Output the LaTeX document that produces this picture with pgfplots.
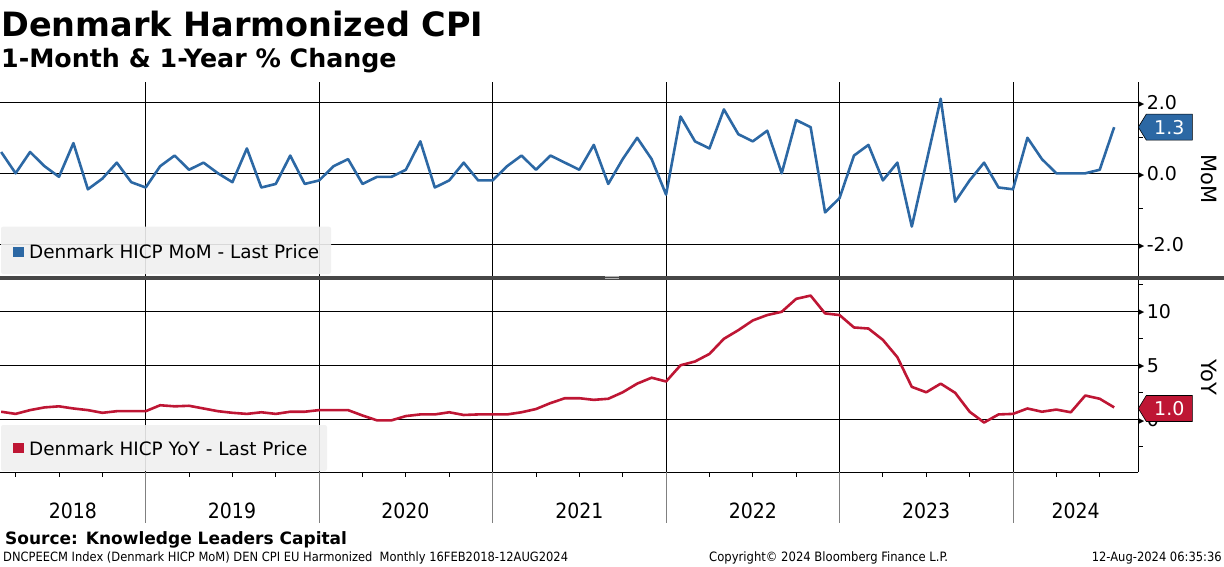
\documentclass[border=0pt]{standalone}
\usepackage{fontspec}
\setmainfont{DejaVu Sans}
\newfontfamily\cond{DejaVu Sans Condensed}
\usepackage{pgfplots}
\usepackage{pgfplotstable}
\pgfplotsset{compat=1.18}
\definecolor{mblue}{HTML}{2C68A4}
\definecolor{mred}{HTML}{BE1634}
\definecolor{legbg}{HTML}{F0F0F0}
\newcommand\tri{\raisebox{3.2pt}{\fontsize{7.5}{7.5}\selectfont ▶}\hspace{2.5pt}}

\pgfplotstableread{
m v
2 0.6
3 0.0
4 0.6
5 0.2
6 -0.1
7 0.85
8 -0.45
9 -0.15
10 0.3
11 -0.25
12 -0.4
13 0.2
14 0.5
15 0.1
16 0.3
17 0.0
18 -0.25
19 0.7
20 -0.4
21 -0.3
22 0.5
23 -0.3
24 -0.2
25 0.2
26 0.4
27 -0.3
28 -0.1
29 -0.1
30 0.1
31 0.9
32 -0.4
33 -0.2
34 0.3
35 -0.2
36 -0.2
37 0.2
38 0.5
39 0.1
40 0.5
41 0.3
42 0.1
43 0.8
44 -0.3
45 0.4
46 1.0
47 0.4
48 -0.6
49 1.6
50 0.9
51 0.7
52 1.8
53 1.1
54 0.9
55 1.2
56 0.0
57 1.5
58 1.3
59 -1.1
60 -0.7
61 0.5
62 0.8
63 -0.2
64 0.3
65 -1.5
66 0.3
67 2.1
68 -0.8
69 -0.2
70 0.3
71 -0.4
72 -0.45
73 1.0
74 0.4
75 0.0
76 0.0
77 0.0
78 0.1
79 1.3
}\mom

\pgfplotstableread{
m v
2 0.7
3 0.5
4 0.85
5 1.1
6 1.2
7 1.0
8 0.85
9 0.6
10 0.75
11 0.75
12 0.75
13 1.3
14 1.2
15 1.25
16 1.0
17 0.75
18 0.6
19 0.5
20 0.65
21 0.5
22 0.7
23 0.7
24 0.85
25 0.85
26 0.85
27 0.35
28 -0.1
29 -0.1
30 0.3
31 0.45
32 0.45
33 0.65
34 0.4
35 0.45
36 0.45
37 0.45
38 0.65
39 0.95
40 1.5
41 1.95
42 1.95
43 1.8
44 1.9
45 2.5
46 3.3
47 3.85
48 3.5
49 5.0
50 5.35
51 6.05
52 7.45
53 8.25
54 9.15
55 9.65
56 9.95
57 11.15
58 11.45
59 9.8
60 9.65
61 8.5
62 8.4
63 7.35
64 5.75
65 3.0
66 2.5
67 3.3
68 2.45
69 0.7
70 -0.3
71 0.45
72 0.5
73 1.0
74 0.7
75 0.9
76 0.65
77 2.2
78 1.9
79 1.1
}\yoy

\pgfplotsset{
  common/.style={
    scale only axis, width=1138.3pt,
    xmin=1.92, xmax=80.67,
    axis y line*=right, axis x line*=bottom,
    xtick={12,24,36,48,60,72}, xticklabels={},
    xmajorgrids, ymajorgrids,
    major grid style={black, line width=0.9pt},
    major tick length=0pt, minor tick length=4.5pt,
    tick align=outside,
    minor tick style={black, line width=0.9pt},
    axis line style={black, line width=0.9pt},
    yticklabel style={anchor=west, inner xsep=0pt, inner ysep=0pt, xshift=0pt,
      font=\fontsize{19}{19}\selectfont},
  },
}

\begin{document}
\begin{tikzpicture}[x=1pt,y=1pt]
\useasboundingbox (0,0) rectangle (1224,566);

% top panel
\begin{axis}[common, at={(0pt,290.5pt)}, anchor=south west, height=194pt,
  ymin=-2.879, ymax=2.586,
  ytick={-2,0,2}, yticklabels={{\tri-2.0},{\tri0.0},{\tri2.0}},
  minor ytick={-1,1},
  x axis line style={draw=none}]
\addplot[mblue, line width=2.6pt, line join=round] table[x=m,y=v]{\mom};
\coordinate (labA) at (axis cs:80.67,1.3);
\end{axis}

% bottom panel
\begin{axis}[common, at={(0pt,93.7pt)}, anchor=south west, height=192.8pt,
  ymin=-4.907, ymax=12.94,
  ytick={0,5,10}, yticklabels={{\tri0},{\tri5},{\tri10}},
  minor ytick={-2.5,2.5,7.5,12.5},
  minor xtick={3,6,9,15,18,21,27,30,33,39,42,45,51,54,57,63,66,69,75,78}]
\addplot[mred, line width=2.6pt, line join=round] table[x=m,y=v]{\yoy};
\coordinate (labB) at (axis cs:80.67,1.0);
\end{axis}

% value labels
\draw[black, line width=0.6pt, fill=mblue] (labA) -- ++(8,13) -- ++(46,0) -- ++(0,-26) -- ++(-46,0) -- cycle;
\node[white, font=\fontsize{19}{19}\selectfont, inner sep=0] at ([xshift=31pt]labA) {1.3};
\draw[black, line width=0.6pt, fill=mred] (labB) -- ++(8,13) -- ++(46,0) -- ++(0,-26) -- ++(-46,0) -- cycle;
\node[white, font=\fontsize{19}{19}\selectfont, inner sep=0] at ([xshift=31pt]labB) {1.0};

% below-axis year separators
\foreach \m in {12,24,36,48,60,72}
  \draw[black!50, line width=1pt] ({145.7+(\m-12)*14.455},93.7) -- ({145.7+(\m-12)*14.455},43);

% year labels
\foreach \x/\yr in {72.9/2018,232/2019,405.3/2020,579.3/2021,752.8/2022,926.2/2023,1075.7/2024}
  \node[font=\cond\fontsize{21}{21}\selectfont, inner sep=0] at (\x,55) {\yr};

% separator
\fill[black!72] (0,286.5) rectangle (1224,290.5);
\draw[black!30, line width=0.6pt] (605,289.3) -- (619,289.3);
\draw[black!30, line width=0.6pt] (605,287.6) -- (619,287.6);

% legends
\fill[legbg, opacity=0.9, rounded corners=2pt] (1,292) rectangle (331,339.3);
\fill[mblue] (13,309.3) rectangle (24,319.3);
\node[anchor=base west, inner sep=0, font=\fontsize{18.4}{18.4}\selectfont] at (29,307.7) {Denmark HICP MoM - Last Price};

\fill[legbg, opacity=0.9, rounded corners=2pt] (1,95) rectangle (327,141);
\fill[mred] (13,112.7) rectangle (24,122.7);
\node[anchor=base west, inner sep=0, font=\fontsize{18.4}{18.4}\selectfont] at (29,111) {Denmark HICP YoY - Last Price};

% axis titles
\node[rotate=-90, font=\fontsize{21}{21}\selectfont, inner sep=0] at (1209,387) {MoM};
\node[rotate=-90, font=\fontsize{21}{21}\selectfont, inner sep=0] at (1209,189) {YoY};

% titles
\node[anchor=base west, inner sep=0, font=\bfseries\fontsize{33.5}{33.5}\selectfont] at (1,529.3) {Denmark Harmonized CPI};
\node[anchor=base west, inner sep=0, font=\bfseries\fontsize{25.3}{25.3}\selectfont] at (1,498) {1-Month \& 1-Year \% Change};

% footer
\node[anchor=base west, inner sep=0, font=\bfseries\fontsize{17}{17}\selectfont] at (5,22) {Source: Knowledge Leaders Capital};
\node[anchor=base west, inner sep=0, font=\cond\fontsize{12}{12}\selectfont] at (3,5) {\resizebox{565pt}{!}{DNCPEECM Index (Denmark HICP MoM) DEN CPI EU Harmonized\ \ Monthly 16FEB2018-12AUG2024}};
\node[anchor=base west, inner sep=0, font=\cond\fontsize{12}{12}\selectfont] at (709,5) {\resizebox{239pt}{!}{Copyright© 2024 Bloomberg Finance L.P.}};
\node[anchor=base east, inner sep=0, font=\cond\fontsize{12}{12}\selectfont] at (1222,5) {\resizebox{130pt}{!}{12-Aug-2024 06:35:36}};
\end{tikzpicture}
\end{document}
